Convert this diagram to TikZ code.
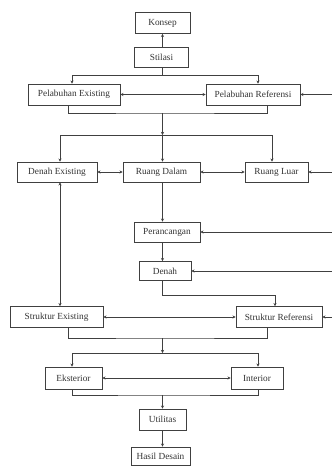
\documentclass[tikz,border=0pt]{standalone}
\usepackage{fontspec}
\setmainfont{Liberation Serif}
\usetikzlibrary{arrows.meta}
\begin{document}
\begin{tikzpicture}[x=1pt,y=-1pt,
  box/.style={draw=black!75,line width=0.6pt,fill=white,inner sep=0pt,
    font=\fontsize{9.3}{10}\selectfont,text=black!80},
  link/.style={draw=black!75,line width=0.6pt},
  tip/.style={link,-{Stealth[length=3.2pt,width=3.2pt]}},
  both/.style={link,{Stealth[length=3.2pt,width=3.2pt]}-{Stealth[length=3.2pt,width=3.2pt]}}]
\useasboundingbox (0,0) rectangle (332,467);
% nodes
\node[box,minimum width=55pt,minimum height=21pt] (konsep) at (162.5,23) {Konsep};
\node[box,minimum width=54pt,minimum height=20pt] (stil) at (161.5,57) {Stilasi};
\node[box,minimum width=92pt,minimum height=21pt] (pe) at (74,94.5) {Pelabuhan Existing};
\node[box,minimum width=94pt,minimum height=21pt] (pr) at (253,94.5) {Pelabuhan Referensi};
\node[box,minimum width=80pt,minimum height=20pt] (de) at (57,172) {Denah Existing};
\node[box,minimum width=77pt,minimum height=20pt] (rd) at (161.5,172) {Ruang Dalam};
\node[box,minimum width=63pt,minimum height=20pt] (rl) at (276.5,172) {Ruang Luar};
\node[box,minimum width=66pt,minimum height=20pt] (per) at (167,232) {Perancangan};
\node[box,minimum width=52pt,minimum height=19pt] (den) at (165,271) {Denah};
\node[box,minimum width=93pt,minimum height=21pt] (se) at (56.5,317) {Struktur Existing};
\node[box,minimum width=86pt,minimum height=21pt] (sr) at (279,317) {Struktur Referensi};
\node[box,minimum width=57pt,minimum height=22pt] (ek) at (73.5,378) {Eksterior};
\node[box,minimum width=52pt,minimum height=22pt] (int) at (257,378) {Interior};
\node[box,minimum width=47pt,minimum height=21pt] (ut) at (162.5,419.5) {Utilitas};
\node[box,minimum width=59pt,minimum height=18pt] (hd) at (160.5,456) {Hasil Desain};
% junction coordinates
\coordinate (j1) at (162.5,75);
\coordinate (j2) at (162.5,113);
\coordinate (j3) at (162.5,135);
\coordinate (j4) at (162.5,295);
\coordinate (j5) at (162.5,338);
\coordinate (j6) at (162.5,353);
\coordinate (j7) at (162.5,395);
\coordinate (e1) at (333,94.5);
\coordinate (e2) at (333,172);
\coordinate (e3) at (333,232);
\coordinate (e4) at (333,271);
\coordinate (e5) at (333,317);
% top
\draw[tip] (stil.north -| konsep.south) -- (konsep.south);
\draw[link] (stil.south -| j1) -- (j1);
\draw[tip] (j1) -| ([xshift=-2pt]pe.north);
\draw[tip] (j1) -| ([xshift=5pt]pr.north);
\draw[both] (pe) -- (pr);
\draw[tip] (e1) -- (pr);
% pelabuhan to ruang
\draw[link] ([xshift=-6pt]pe.south) |- (j2) -| ([xshift=14pt]pr.south);
\draw[tip] (j2) -- (j3);
\draw[tip] (j3) -| ([xshift=3pt]de.north);
\draw[tip] (j3) -- (j3 |- rd.north);
\draw[tip] (j3) -| ([xshift=-4.5pt]rl.north);
\draw[both] (de) -- (rd);
\draw[both] (rd) -- (rl);
\draw[tip] (e2) -- (rl);
% middle column
\draw[tip] (rd.south -| j3) -- (j3 |- per.north);
\draw[tip] (e3) -- (per);
\draw[tip] (per.south -| j3) -- (j3 |- den.north);
\draw[tip] (e4) -- (den);
\draw[tip] (den.south -| j4) -- (j4) -| ([xshift=-4pt]sr.north);
\draw[both] ([xshift=3pt]de.south) -- ([xshift=3pt]de.south |- se.north);
\draw[both] (se) -- (sr);
\draw[tip] (e5) -- (sr);
% struktur to eksterior/interior
\draw[link] ([xshift=11.5pt]se.south) |- (j5) -| ([xshift=-12pt]sr.south);
\draw[tip] (j5) -- (j6);
\draw[tip] (j6) -| ([xshift=-1.5pt]ek.north);
\draw[tip] (j6) -| ([xshift=1pt]int.north);
\draw[both] (ek) -- (int);
\draw[link] ([xshift=-1.5pt]ek.south) |- (j7) -| ([xshift=1pt]int.south);
\draw[tip] (j7) -- (ut.north);
\draw[tip] (ut.south) -- (ut.south |- hd.north);
\end{tikzpicture}
\end{document}
